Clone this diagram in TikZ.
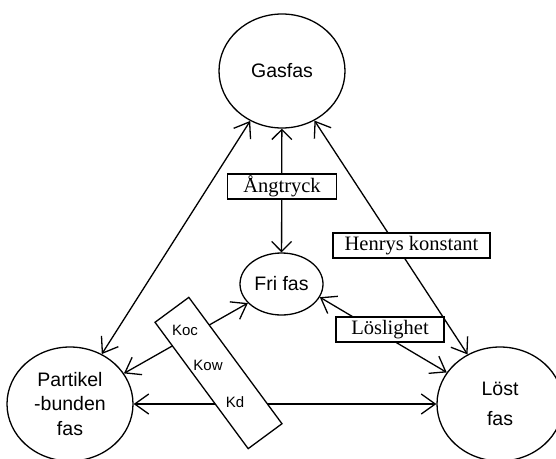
\documentclass[tikz,border=0pt]{standalone}
\usepackage{fontspec}
\setmainfont{Liberation Serif}
\setsansfont{Liberation Sans}
\usepackage{tikz}
\usetikzlibrary{arrows.meta}
\usetikzlibrary{shapes.geometric}
\tikzset{phase/.style={draw,ellipse,fill=white,
                       minimum width=126pt,minimum height=114pt,inner sep=0pt,
                       align=center,font=\sffamily\fontsize{19.5}{24.5}\selectfont}}
\tikzset{konst/.style={draw,rectangle,fill=white,
                       minimum height=25pt,inner sep=0pt,
                       font=\fontsize{20.5}{24}\selectfont}}
\def\barblen{14pt}

\begin{document}
\begin{tikzpicture}[x=1pt,y=-1pt,<->,line width=1.3pt,
    >={Straight Barb[length=\barblen,width=20pt]}]
    \tikzstyle{kort} = [>={Straight Barb[length=10pt,width=20pt]}]
    \tikzstyle{kvot} = [font=\sffamily\fontsize{15}{18}\selectfont]

    \useasboundingbox (0,0) rectangle (556,458);

    % Draw the phases
    \node[phase] (gas) at (282,71) {Gasfas};
    \node[phase,minimum width=83pt,minimum height=62pt] (fri) at (281.5,284) {Fri fas};
    \node[phase] (partikel) at (70,404) {Partikel\\-bunden\\fas};
    \node[phase,font=\sffamily\fontsize{19.5}{27}\selectfont] (lost) at (500,404) {\raisebox{3pt}{Löst}\\fas};

    % Connect the gas phase with the other phases
    \path (gas) edge (partikel);
    \path (gas) edge[kort] (fri);
    \path (gas) edge (lost);

    % Connect the free phase with the bound and the dissolved phase
    \path (fri.-19) edge (lost);
    \path (fri) edge (partikel);
    \path (partikel) edge (lost);

    % Constants on top of the arrows
    \node[konst,minimum width=109pt] (angtryck) at (282,186.5) {Ångtryck};
    \node[konst,minimum width=157pt] (henry) at (411.5,245.5) {Henrys konstant};
    \node[konst,minimum width=108pt] (loslighet) at (390,329.5) {Löslighet};
    \node[draw,fill=white,rotate=-53.6,minimum width=157pt,minimum height=42pt]
        (fordelning) at (218.5,373) {};
    \foreach \name / \x / \y in {Koc/185/330,Kow/208/365,Kd/235/402}
        \node[kvot] (\name) at (\x,\y) {\name};
\end{tikzpicture}
\end{document}
